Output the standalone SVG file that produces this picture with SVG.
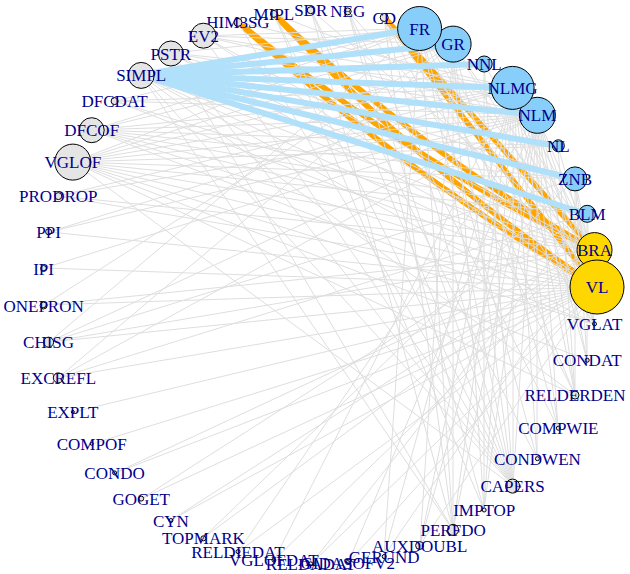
<svg xmlns="http://www.w3.org/2000/svg" width="630" height="574" viewBox="0 0 630 574">
<style>
.g{stroke:#dedede;stroke-width:1;fill:none}
.o{stroke:#FFA500;stroke-width:5.5;fill:none}
.b{stroke:#B0E0FA;stroke-width:6;fill:none}
circle{stroke:#000;stroke-width:1}
.gy{fill:#E5E5E5}
.bl{fill:#87CEFA}
.gd{fill:#FFD700}
text{font-family:"Liberation Serif","Times New Roman",serif;font-size:17px;fill:#00008B;text-anchor:middle}
</style>
<rect width="630" height="574" fill="#fff"/>
<g id="edges">
<g id="orange-edges">
<path class="o" d="M238 22Q403.2 173.8 597 287"/>
<path class="o" d="M238 22Q403.1 156.2 594 250"/>
<path class="o" d="M274 14Q420 168.8 597 287"/>
<path class="o" d="M274 14Q419.8 151.3 594 250"/>
<path class="o" d="M384 17L597 287"/>
<path class="o" d="M384 17L594 250"/>
</g>
<g id="gray-edges">
<path class="g" d="M420 28L597 287"/>
<path class="g" d="M453 44L597 287"/>
<path class="g" d="M513 88L597 287"/>
<path class="g" d="M537 115L597 287"/>
<path class="g" d="M513 88L594 250"/>
<path class="g" d="M537 115L594 250"/>
<path class="g" d="M420 28L594 250"/>
<path class="g" d="M575 179L597 287"/>
<path class="g" d="M558 146L597 287"/>
<path class="g" d="M484 64L594 250"/>
<path class="g" d="M453 44L594 250"/>
<path class="g" d="M575 179L594 324"/>
<path class="g" d="M587 214L587 360"/>
<path class="g" d="M537 115L575 395"/>
<path class="g" d="M513 88L513 486"/>
<path class="g" d="M484 64L513 486"/>
<path class="g" d="M537 115L513 486"/>
<path class="g" d="M513 88L484 510"/>
<path class="g" d="M420 28L453 530"/>
<path class="g" d="M453 44L453 530"/>
<path class="g" d="M420 28L513 486"/>
<path class="g" d="M453 44L513 486"/>
<path class="g" d="M484 64L484 510"/>
<path class="g" d="M513 88L537 459"/>
<path class="g" d="M537 115L558 428"/>
<path class="g" d="M558 146L575 395"/>
<path class="g" d="M420 28L384 556"/>
<path class="g" d="M453 44L420 545"/>
<path class="g" d="M537 115L594 324"/>
<path class="g" d="M513 88L587 360"/>
<path class="g" d="M575 179L587 360"/>
<path class="g" d="M587 214L594 324"/>
<path class="g" d="M575 179L575 395"/>
<path class="g" d="M384 17L513 486"/>
<path class="g" d="M348 11L513 486"/>
<path class="g" d="M311 10L513 486"/>
<path class="g" d="M274 14L513 486"/>
<path class="g" d="M238 22L513 486"/>
<path class="g" d="M384 17L453 530"/>
<path class="g" d="M348 11L484 510"/>
<path class="g" d="M311 10L453 530"/>
<path class="g" d="M274 14L484 510"/>
<path class="g" d="M384 17L575 395"/>
<path class="g" d="M348 11L597 287"/>
<path class="g" d="M311 10L594 250"/>
<path class="g" d="M274 14L537 115"/>
<path class="g" d="M238 22L513 88"/>
<path class="g" d="M384 17L594 324"/>
<path class="g" d="M311 10L537 459"/>
<path class="g" d="M348 11L558 428"/>
<path class="g" d="M203 36L420 28"/>
<path class="g" d="M203 36L453 44"/>
<path class="g" d="M203 36L513 88"/>
<path class="g" d="M203 36L537 115"/>
<path class="g" d="M203 36L597 287"/>
<path class="g" d="M203 36L594 250"/>
<path class="g" d="M203 36L513 486"/>
<path class="g" d="M171 53L420 28"/>
<path class="g" d="M171 53L513 88"/>
<path class="g" d="M171 53L537 115"/>
<path class="g" d="M171 53L597 287"/>
<path class="g" d="M171 53L594 250"/>
<path class="g" d="M171 53L575 179"/>
<path class="g" d="M171 53L513 486"/>
<path class="g" d="M171 53L453 530"/>
<path class="g" d="M141 75L597 287"/>
<path class="g" d="M141 75L594 250"/>
<path class="g" d="M141 75L513 486"/>
<path class="g" d="M141 75L594 324"/>
<path class="g" d="M141 75L575 395"/>
<path class="g" d="M141 75L453 530"/>
<path class="g" d="M115 101L597 287"/>
<path class="g" d="M115 101L594 250"/>
<path class="g" d="M115 101L513 88"/>
<path class="g" d="M115 101L537 115"/>
<path class="g" d="M115 101L420 28"/>
<path class="g" d="M92 130L597 287"/>
<path class="g" d="M92 130L594 250"/>
<path class="g" d="M92 130L513 88"/>
<path class="g" d="M92 130L537 115"/>
<path class="g" d="M92 130L575 179"/>
<path class="g" d="M92 130L587 214"/>
<path class="g" d="M92 130L420 28"/>
<path class="g" d="M92 130L453 44"/>
<path class="g" d="M92 130L594 324"/>
<path class="g" d="M92 130L558 146"/>
<path class="g" d="M73 162L597 287"/>
<path class="g" d="M73 162L594 250"/>
<path class="g" d="M73 162L420 28"/>
<path class="g" d="M73 162L453 44"/>
<path class="g" d="M73 162L513 88"/>
<path class="g" d="M73 162L537 115"/>
<path class="g" d="M73 162L558 146"/>
<path class="g" d="M73 162L575 179"/>
<path class="g" d="M73 162L587 214"/>
<path class="g" d="M73 162L484 64"/>
<path class="g" d="M73 162L594 324"/>
<path class="g" d="M73 162L587 360"/>
<path class="g" d="M73 162L575 395"/>
<path class="g" d="M73 162L513 486"/>
<path class="g" d="M58 196L597 287"/>
<path class="g" d="M58 196L537 115"/>
<path class="g" d="M58 196L513 88"/>
<path class="g" d="M58 196L594 250"/>
<path class="g" d="M49 232L513 88"/>
<path class="g" d="M49 232L537 115"/>
<path class="g" d="M49 232L597 287"/>
<path class="g" d="M44 268L537 115"/>
<path class="g" d="M44 268L597 287"/>
<path class="g" d="M44 305L453 44"/>
<path class="g" d="M44 305L597 287"/>
<path class="g" d="M44 305L594 250"/>
<path class="g" d="M49 342L575 179"/>
<path class="g" d="M49 342L594 250"/>
<path class="g" d="M49 342L420 28"/>
<path class="g" d="M49 342L597 287"/>
<path class="g" d="M49 342L537 115"/>
<path class="g" d="M58 378L537 115"/>
<path class="g" d="M58 378L597 287"/>
<path class="g" d="M58 378L453 44"/>
<path class="g" d="M58 378L587 214"/>
<path class="g" d="M73 412L597 287"/>
<path class="g" d="M92 444L597 287"/>
<path class="g" d="M115 473L597 287"/>
<path class="g" d="M115 473L594 250"/>
<path class="g" d="M141 499L597 287"/>
<path class="g" d="M141 499L587 214"/>
<path class="g" d="M171 520L594 250"/>
<path class="g" d="M171 520L597 287"/>
<path class="g" d="M203 538L594 250"/>
<path class="g" d="M203 538L575 179"/>
<path class="g" d="M238 552L597 287"/>
<path class="g" d="M238 552L537 115"/>
<path class="g" d="M274 560L594 250"/>
<path class="g" d="M274 560L513 88"/>
<path class="g" d="M311 564L597 287"/>
<path class="g" d="M311 564L587 214"/>
<path class="g" d="M348 563L597 287"/>
<path class="g" d="M348 563L537 115"/>
<path class="g" d="M384 556L513 88"/>
<path class="g" d="M384 556L594 250"/>
<path class="g" d="M420 545L513 88"/>
<path class="g" d="M420 545L537 115"/>
<path class="g" d="M420 545L597 287"/>
<path class="g" d="M453 530L513 88"/>
<path class="g" d="M453 530L537 115"/>
<path class="g" d="M484 510L453 44"/>
<path class="g" d="M484 510L537 115"/>
<path class="g" d="M537 459L420 28"/>
<path class="g" d="M537 459L537 115"/>
<path class="g" d="M558 428L513 88"/>
<path class="g" d="M558 428L453 44"/>
<path class="g" d="M575 395L420 28"/>
<path class="g" d="M575 395L513 88"/>
<path class="g" d="M587 360L537 115"/>
<path class="g" d="M594 324L513 88"/>
<path class="g" d="M594 324L420 28"/>
</g>
<g id="blue-edges">
<path class="b" d="M141 75L420 28"/>
<path class="b" d="M141 75L453 44"/>
<path class="b" d="M141 75L484 64"/>
<path class="b" d="M141 75L513 88"/>
<path class="b" d="M141 75L537 115"/>
<path class="b" d="M141 75L558 146"/>
<path class="b" d="M141 75L575 179"/>
<path class="b" d="M141 75L587 214"/>
</g>
</g>
<g id="nodes">
<g id="n-BRA"><circle class="gd" cx="594.5" cy="250.1" r="17.5"/><text x="594.5" y="256">BRA</text></g>
<g id="n-VL"><circle class="gd" cx="597" cy="287" r="27"/><text x="597" y="293">VL</text></g>
<g id="n-BLM"><circle class="bl" cx="587.2" cy="213.8" r="8.5"/><text x="587.2" y="220">BLM</text></g>
<g id="n-ZNB"><circle class="bl" cx="575" cy="178.9" r="12"/><text x="575" y="185">ZNB</text></g>
<g id="n-NL"><circle class="bl" cx="558.3" cy="145.8" r="6"/><text x="558.3" y="152">NL</text></g>
<g id="n-NLM"><circle class="bl" cx="537.4" cy="115.3" r="18"/><text x="537.4" y="121">NLM</text></g>
<g id="n-NLMG"><circle class="bl" cx="512.6" cy="87.9" r="21.5"/><text x="512.6" y="94">NLMG</text></g>
<g id="n-NNL"><circle class="bl" cx="484.2" cy="64" r="8"/><text x="484.2" y="70">NNL</text></g>
<g id="n-GR"><circle class="bl" cx="453.1" cy="44.1" r="18"/><text x="453.1" y="50">GR</text></g>
<g id="n-FR"><circle class="bl" cx="419.6" cy="28.5" r="22"/><text x="419.6" y="34.5">FR</text></g>
<g id="n-CD"><circle class="gy" cx="384.2" cy="17.5" r="4"/><text x="384.2" y="23.5">CD</text></g>
<g id="n-NEG"><circle class="gy" cx="347.7" cy="11.4" r="3.5"/><text x="347.7" y="17.4">NEG</text></g>
<g id="n-SDR"><circle class="gy" cx="310.7" cy="10.2" r="3.5"/><text x="310.7" y="16.2">SDR</text></g>
<g id="n-MIPL"><circle class="gy" cx="273.9" cy="13.9" r="3.5"/><text x="273.9" y="19.9">MIPL</text></g>
<g id="n-HIM3SG"><circle class="gy" cx="238" cy="22.4" r="4"/><text x="238" y="28.4">HIM3SG</text></g>
<g id="n-EV2"><circle class="gy" cx="203.4" cy="35.7" r="12.5"/><text x="203.4" y="41.7">EV2</text></g>
<g id="n-PSTR"><circle class="gy" cx="170.9" cy="53.5" r="12.5"/><text x="170.9" y="59.5">PSTR</text></g>
<g id="n-SIMPL"><circle class="gy" cx="141.2" cy="75.4" r="13"/><text x="141.2" y="81.4">SIMPL</text></g>
<g id="n-DFCDAT"><circle class="gy" cx="114.6" cy="101.1" r="3.5"/><text x="114.6" y="107.1">DFCDAT</text></g>
<g id="n-DFCOF"><circle class="gy" cx="91.7" cy="130.2" r="12.5"/><text x="91.7" y="136.2">DFCOF</text></g>
<g id="n-VGLOF"><circle class="gy" cx="72.8" cy="162.1" r="18"/><text x="72.8" y="168.1">VGLOF</text></g>
<g id="n-PRODROP"><circle class="gy" cx="58.3" cy="196.1" r="3.5"/><text x="58.3" y="202.1">PRODROP</text></g>
<g id="n-PPI"><circle class="gy" cx="48.6" cy="231.8" r="3"/><text x="48.6" y="237.8">PPI</text></g>
<g id="n-IPI"><circle class="gy" cx="43.6" cy="268.5" r="3"/><text x="43.6" y="274.5">IPI</text></g>
<g id="n-ONEPRON"><circle class="gy" cx="43.6" cy="305.5" r="3.5"/><text x="43.6" y="311.5">ONEPRON</text></g>
<g id="n-CHISG"><circle class="gy" cx="48.6" cy="342.2" r="5"/><text x="48.6" y="348.2">CHISG</text></g>
<g id="n-EXCREFL"><circle class="gy" cx="58.3" cy="377.9" r="5"/><text x="58.3" y="383.9">EXCREFL</text></g>
<g id="n-EXPLT"><circle class="gy" cx="72.8" cy="411.9" r="1.5"/><text x="72.8" y="417.9">EXPLT</text></g>
<g id="n-COMPOF"><circle class="gy" cx="91.7" cy="443.8" r="1.5"/><text x="91.7" y="449.8">COMPOF</text></g>
<g id="n-CONDO"><circle class="gy" cx="114.6" cy="472.9" r="2"/><text x="114.6" y="478.9">CONDO</text></g>
<g id="n-GOGET"><circle class="gy" cx="141.2" cy="498.6" r="2.5"/><text x="141.2" y="504.6">GOGET</text></g>
<g id="n-CYN"><circle class="gy" cx="170.9" cy="520.5" r="2"/><text x="170.9" y="526.5">CYN</text></g>
<g id="n-TOPMARK"><circle class="gy" cx="203.4" cy="538.3" r="2.5"/><text x="203.4" y="544.3">TOPMARK</text></g>
<g id="n-RELDIEDAT"><circle class="gy" cx="238" cy="551.6" r="2"/><text x="238" y="557.6">RELDIEDAT</text></g>
<g id="n-VGLOFDAT"><circle class="gy" cx="273.9" cy="560.1" r="2"/><text x="273.9" y="566.1">VGLOFDAT</text></g>
<g id="n-RELDADAT"><circle class="gy" cx="310.7" cy="563.8" r="2"/><text x="310.7" y="569.8">RELDADAT</text></g>
<g id="n-GIDASOFV2"><circle class="gy" cx="347.7" cy="562.6" r="2"/><text x="347.7" y="568.6">GIDASOFV2</text></g>
<g id="n-GERUND"><circle class="gy" cx="384.2" cy="556.5" r="2"/><text x="384.2" y="562.5">GERUND</text></g>
<g id="n-AUXDOUBL"><circle class="gy" cx="419.6" cy="545.5" r="4"/><text x="419.6" y="551.5">AUXDOUBL</text></g>
<g id="n-PERFDO"><circle class="gy" cx="453.1" cy="529.9" r="5.5"/><text x="453.1" y="535.9">PERFDO</text></g>
<g id="n-IMPTOP"><circle class="gy" cx="484.2" cy="510" r="2"/><text x="484.2" y="516">IMPTOP</text></g>
<g id="n-CAPERS"><circle class="gy" cx="512.6" cy="486.1" r="7"/><text x="512.6" y="492.1">CAPERS</text></g>
<g id="n-CONDWEN"><circle class="gy" cx="537.4" cy="458.7" r="2"/><text x="537.4" y="464.7">CONDWEN</text></g>
<g id="n-COMPWIE"><circle class="gy" cx="558.3" cy="428.2" r="2"/><text x="558.3" y="434.2">COMPWIE</text></g>
<g id="n-RELDERDEN"><circle class="gy" cx="575" cy="395.1" r="4"/><text x="575" y="401.1">RELDERDEN</text></g>
<g id="n-CONDAT"><circle class="gy" cx="587.2" cy="360.2" r="2"/><text x="587.2" y="366.2">CONDAT</text></g>
<g id="n-VGLAT"><circle class="gy" cx="594.5" cy="323.9" r="2"/><text x="594.5" y="329.9">VGLAT</text></g>
</g>
</svg>
